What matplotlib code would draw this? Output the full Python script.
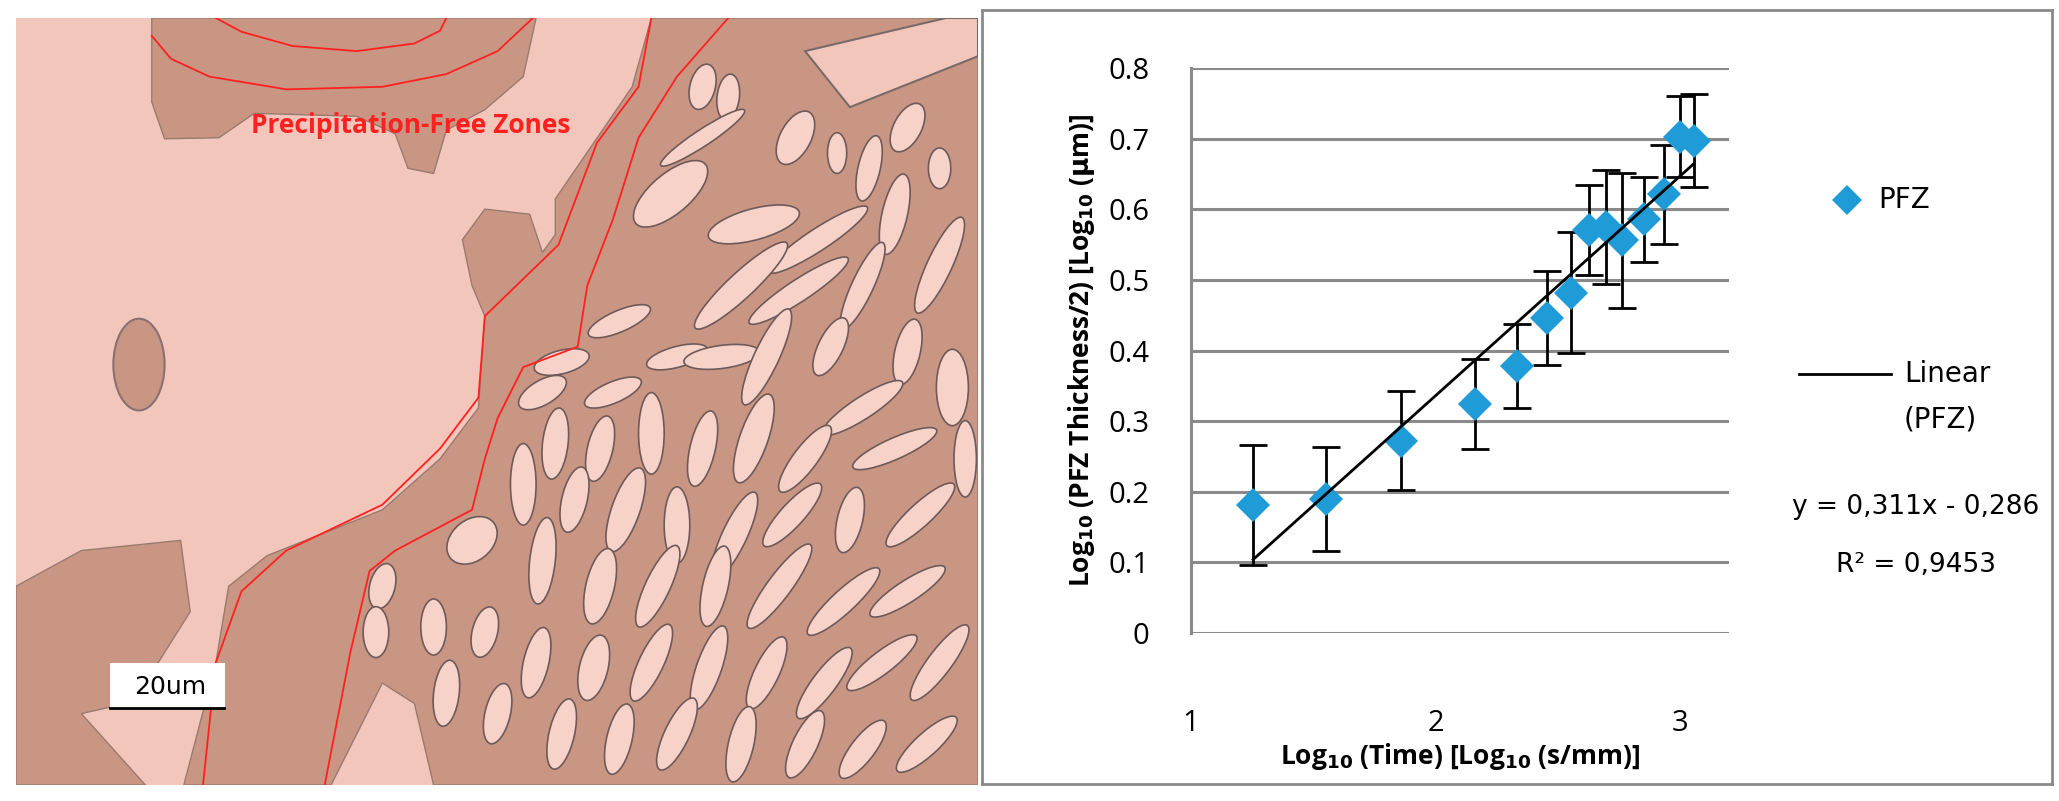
import matplotlib.pyplot as plt
from matplotlib.patches import Polygon, Ellipse, Rectangle

# ---- chart data ----
log_time = [1.254, 1.554, 1.858, 2.161, 2.333, 2.456, 2.553, 2.628, 2.699, 2.762, 2.851, 2.933, 3.000, 3.058]
log_half_pfz = [0.181, 0.190, 0.272, 0.324, 0.378, 0.446, 0.482, 0.571, 0.575, 0.556, 0.586, 0.621, 0.703, 0.697]
pfz_err = [0.085, 0.074, 0.070, 0.064, 0.059, 0.067, 0.086, 0.064, 0.081, 0.096, 0.060, 0.070, 0.057, 0.066]
fit_slope = 0.311
fit_intercept = -0.286
fit_r2 = 0.9453
y_ticks = [0, 0.1, 0.2, 0.3, 0.4, 0.5, 0.6, 0.7, 0.8]
x_ticks = [1, 2, 3]

W, H = 2059, 801
BLUE = "#1f9bd7"
GRID = "#8a8a8a"
PINK = "#f3c6bc"
BROWN = "#c99683"


def box(l, t, r, b):
    return [l / W, 1 - b / H, (r - l) / W, (b - t) / H]


fig = plt.figure(figsize=(W / 100, H / 100), dpi=100)
fig.patch.set_facecolor("white")

# ---- left panel: micrograph sketch ----
ph = fig.add_axes(box(16, 18, 978, 785))
ph.set_xlim(28, 1530)
ph.set_ylim(1540, 35)
ph.axis("off")
ph.add_patch(Rectangle((28, 35), 1502, 1505, color=PINK, zorder=0))

brown_regions = [
    [(240, 35), (840, 35), (820, 150), (760, 215), (700, 255), (680, 340), (640, 330), (620, 262),
     (560, 228), (400, 222), (345, 270), (260, 272), (240, 200)],
    [(1020, 35), (1530, 35), (1530, 1540), (680, 1540), (650, 1380), (600, 1340), (520, 1540), (290, 1540),
     (340, 1300), (360, 1150), (420, 1090), (600, 1000), (690, 900), (750, 800), (760, 620), (740, 560),
     (725, 470), (760, 410), (830, 420), (850, 495), (870, 460), (870, 390), (930, 280), (990, 170)],
    [(28, 1150), (130, 1080), (285, 1060), (300, 1200), (250, 1300), (200, 1380), (130, 1400),
     (230, 1540), (28, 1540)],
]
for poly in brown_regions:
    ph.add_patch(Polygon(poly, closed=True, facecolor=BROWN, edgecolor="#9a7a70", lw=1, zorder=1))
ph.add_patch(Ellipse((220, 715), 80, 180, facecolor=BROWN, edgecolor="#8a7070", lw=1.5, zorder=1))
ph.add_patch(Polygon([(1260, 100), (1480, 35), (1530, 35), (1530, 110), (1330, 210)],
                     facecolor=PINK, edgecolor="#7a6a6a", lw=1.5, zorder=2))

# light precipitate particles (x, y, width, height, angle)
particles = [
    (1100, 170, 40, 90, 10), (1140, 190, 35, 90, 5), (1100, 270, 30, 170, 50), (1245, 270, 50, 110, 20),
    (1310, 300, 30, 80, 0), (1360, 330, 35, 130, 10), (1420, 250, 45, 100, 20), (1470, 330, 35, 80, 0),
    (1050, 380, 70, 160, 40), (1180, 440, 60, 150, 70), (1280, 470, 40, 200, 50), (1400, 420, 40, 160, 10),
    (1470, 520, 40, 200, 20), (1160, 560, 45, 220, 40), (1250, 570, 40, 200, 50), (1350, 560, 35, 180, 20),
    (970, 630, 40, 110, 60), (1060, 700, 40, 100, 70), (1130, 700, 45, 120, 80), (880, 710, 45, 90, 70),
    (850, 770, 45, 90, 50), (960, 770, 40, 100, 60), (1200, 700, 40, 200, 20), (1300, 680, 40, 120, 20),
    (1420, 690, 40, 130, 10), (1490, 760, 50, 150, 0), (1350, 800, 40, 160, 50), (870, 870, 40, 140, 5),
    (940, 880, 40, 130, 10), (1020, 850, 40, 160, 0), (1100, 880, 40, 150, 10), (1180, 860, 45, 180, 15),
    (1260, 900, 40, 150, 30), (1400, 880, 40, 150, 60), (820, 950, 40, 160, 0), (900, 980, 40, 130, 10),
    (980, 1000, 45, 170, 15), (1060, 1030, 40, 150, 0), (1150, 1050, 40, 180, 20), (1240, 1010, 40, 150, 35),
    (1330, 1020, 40, 130, 10), (1440, 1010, 40, 160, 40), (740, 1060, 70, 100, 30), (850, 1100, 40, 170, 5),
    (940, 1150, 45, 150, 10), (1030, 1150, 40, 170, 20), (1120, 1150, 40, 160, 10), (1220, 1150, 40, 190, 30),
    (1320, 1180, 40, 170, 40), (1420, 1160, 40, 150, 50), (600, 1150, 40, 90, 10), (680, 1230, 40, 110, 0),
    (760, 1240, 40, 100, 10), (590, 1240, 40, 100, 0), (840, 1300, 40, 140, 10), (930, 1310, 45, 130, 10),
    (1020, 1300, 40, 160, 20), (1110, 1310, 40, 170, 15), (1200, 1320, 40, 150, 20), (1290, 1340, 40, 160, 30),
    (1380, 1300, 40, 150, 45), (1470, 1300, 40, 170, 30), (700, 1360, 40, 130, 5), (780, 1400, 40, 120, 10),
    (880, 1440, 40, 140, 10), (970, 1450, 40, 140, 10), (1060, 1440, 40, 150, 20), (1160, 1460, 40, 150, 10),
    (1260, 1460, 40, 140, 20), (1350, 1470, 40, 130, 30), (1450, 1460, 40, 140, 40), (1510, 900, 35, 150, 0),
]
for x, y, w, h, a in particles:
    ph.add_patch(Ellipse((x, y), w, h, angle=a, facecolor="#f6d2c8", edgecolor="#6e5a5a",
                         lw=1.2, zorder=3))

red_lines = [
    [(240, 70), (270, 115), (330, 150), (450, 175), (600, 170), (700, 145), (780, 100), (835, 35)],
    [(340, 35), (380, 62), (460, 90), (560, 100), (650, 85), (690, 60), (700, 35)],
    [(1020, 35), (1000, 170), (935, 280), (875, 480), (760, 620), (750, 780), (690, 880), (600, 990),
     (450, 1080), (380, 1160), (340, 1300), (320, 1540)],
    [(1140, 35), (1060, 150), (1000, 270), (960, 430), (920, 560), (905, 680), (820, 720), (780, 820),
     (760, 900), (740, 1000), (620, 1080), (580, 1120), (550, 1280), (510, 1540)],
]
for line in red_lines:
    ph.plot([p[0] for p in line], [p[1] for p in line], color="#ff2020", lw=1.3, zorder=4)

ph.text(645, 245, "Precipitation-Free Zones", color="#ff2020", fontsize=19, fontweight="bold",
        family="Open Sans", ha="center", va="center", zorder=5)
ph.add_patch(Rectangle((175, 1300), 180, 90, facecolor="white", edgecolor="none", zorder=5))
ph.plot([175, 352], [1388, 1388], color="black", lw=2, zorder=6)
ph.text(268, 1348, "20um", fontsize=18, family="DejaVu Sans", ha="center", va="center", zorder=6)

# ---- right panel: chart frame ----
frame = fig.add_axes(box(982, 10, 2052, 784))
frame.set_xticks([])
frame.set_yticks([])
for s in frame.spines.values():
    s.set_color("#8a8a8a")
    s.set_linewidth(2)
frame.set_zorder(0)

ax = fig.add_axes(box(1191, 68, 1729, 633))
ax.set_zorder(1)
ax.patch.set_alpha(0)
ax.set_xlim(1, 3.2)
ax.set_ylim(0, 0.8)
for yv in y_ticks:
    ax.axhline(yv, color=GRID, lw=2.2, zorder=1)
for s in ["top", "right", "bottom"]:
    ax.spines[s].set_visible(False)
ax.spines["left"].set_color(GRID)
ax.spines["left"].set_linewidth(2.2)
ax.set_yticks(y_ticks)
ax.set_yticklabels(["0"] + [f"{v:.1f}" for v in y_ticks[1:]])
ax.set_xticks(x_ticks)
ax.tick_params(length=0, labelsize=21)
ax.tick_params(axis="y", pad=30)
ax.tick_params(axis="x", pad=55)
for lab in ax.get_xticklabels() + ax.get_yticklabels():
    lab.set_family("Open Sans")

ax.errorbar(log_time, log_half_pfz, yerr=pfz_err, fmt="none", ecolor="black", elinewidth=2,
            capsize=10, capthick=2, zorder=2)
ax.plot(log_time, log_half_pfz, "D", color=BLUE, markersize=17, markeredgewidth=0, zorder=3)
x_fit = [min(log_time), max(log_time)]
ax.plot(x_fit, [fit_slope * x + fit_intercept for x in x_fit], color="black", lw=2, zorder=4)

ax.set_xlabel(r"Log$_{\mathbf{10}}$ (Time) [Log$_{\mathbf{10}}$ (s/mm)]", fontsize=19,
              fontweight="bold", family="Open Sans", labelpad=2)
ax.set_ylabel(r"Log$_{\mathbf{10}}$ (PFZ Thickness/2) [Log$_{\mathbf{10}}$ ($\mathbf{\mu}$m)]",
              fontsize=19, fontweight="bold", family="Open Sans", labelpad=8)


# legend and trendline label, placed in figure pixels like the reference
def fx(px):
    return px / W


def fy(py):
    return 1 - py / H


fig.lines.append(plt.Line2D([fx(1847)], [fy(200)], marker="D", color=BLUE, markersize=15,
                            markeredgewidth=0, transform=fig.transFigure))
fig.text(fx(1878), fy(200), "PFZ", fontsize=20, family="DejaVu Sans", va="center")
fig.lines.append(plt.Line2D([fx(1799), fx(1891)], [fy(374), fy(374)], color="black", lw=2,
                            transform=fig.transFigure))
fig.text(fx(1904), fy(374), "Linear", fontsize=20, family="DejaVu Sans", va="center")
fig.text(fx(1904), fy(420), "(PFZ)", fontsize=20, family="DejaVu Sans", va="center")
fig.text(fx(1916), fy(507), f"y = {fit_slope:.3f}x - {abs(fit_intercept):.3f}".replace(".", ","),
         fontsize=19, family="DejaVu Sans", ha="center", va="center")
fig.text(fx(1916), fy(565), f"R² = {fit_r2:.4f}".replace(".", ","), fontsize=19,
         family="DejaVu Sans", ha="center", va="center")

fig.savefig("out.png", dpi=100)
